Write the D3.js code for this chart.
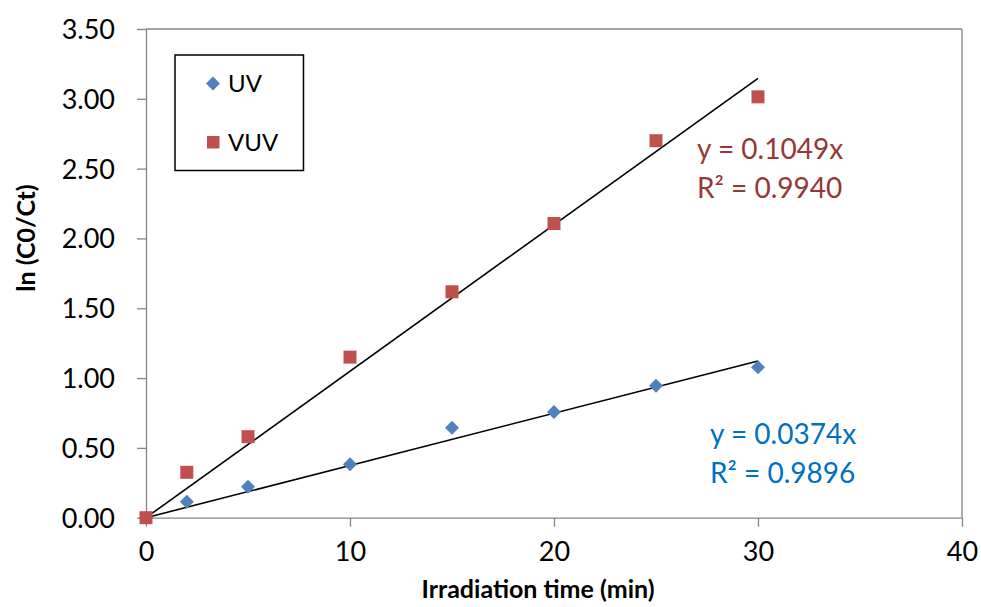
<!DOCTYPE html>
<html><head><meta charset="utf-8">
<script src="https://cdn.jsdelivr.net/npm/d3@7"></script>
<style>
body{margin:0;background:#fff;}
svg{display:block;font-family:Lato, "Open Sans", sans-serif;}
</style></head>
<body><svg id="chart" width="981" height="607"></svg>
<script>
const times = [0, 2, 5, 10, 15, 20, 25, 30];
const uvValues = [0, 0.115, 0.222, 0.382, 0.644, 0.757, 0.945, 1.077];
const vuvValues = [0, 0.325, 0.58, 1.15, 1.618, 2.107, 2.70, 3.014];
const uvSlope = 0.0374, vuvSlope = 0.1049;
const xTicks = [0, 10, 20, 30, 40];
const yTicks = [0, 0.5, 1, 1.5, 2, 2.5, 3, 3.5];
const seriesNames = ["UV", "VUV"];
const uvEq = ["y = 0.0374x", "R² = 0.9896"];
const vuvEq = ["y = 0.1049x", "R² = 0.9940"];

const svg = d3.select("#chart");
const L = 146, R = 962, T = 29, B = 517.7;
const x = d3.scaleLinear().domain([0, 40]).range([L, R]);
const y = d3.scaleLinear().domain([0, 3.5]).range([B, T]);
const grey = "#868686";

svg.append("line").attr("x1", L).attr("x2", R).attr("y1", T).attr("y2", T).attr("stroke", grey).attr("stroke-width", 1.3);
svg.append("line").attr("x1", R).attr("x2", R).attr("y1", T).attr("y2", B).attr("stroke", grey).attr("stroke-width", 1.3);

const xAxis = svg.append("g").attr("transform", `translate(0,${B})`)
  .call(d3.axisBottom(x).tickValues(xTicks).tickSize(9).tickSizeOuter(0).tickPadding(15));
const yAxis = svg.append("g").attr("transform", `translate(${L},0)`)
  .call(d3.axisLeft(y).tickValues(yTicks).tickSize(9).tickSizeOuter(0).tickPadding(22).tickFormat(d3.format(".2f")));
[xAxis, yAxis].forEach(a => {
  a.select(".domain").attr("stroke", grey).attr("stroke-width", 1.3);
  a.selectAll(".tick line").attr("stroke", grey).attr("stroke-width", 1.3);
  a.selectAll(".tick text").attr("fill", "#000").style("font-size", "27px").style("font-family", "Lato, 'Open Sans', sans-serif");
});
xAxis.selectAll(".tick text").attr("dy", "0.71em");
yAxis.selectAll(".tick text").attr("dy", "0.35em");

const trend = (slope) => [[0, 0], [30, slope * 30]];
const line = d3.line().x(d => x(d[0])).y(d => y(d[1]));
svg.append("path").attr("d", line(trend(vuvSlope))).attr("stroke", "#000").attr("stroke-width", 1.6).attr("fill", "none");
svg.append("path").attr("d", line(trend(uvSlope))).attr("stroke", "#000").attr("stroke-width", 1.6).attr("fill", "none");

const uvColor = "#4F81BD", vuvColor = "#C0504D";
const diamond = d3.symbol().type(d3.symbolSquare).size(98);
svg.append("g").selectAll("path").data(times).join("path")
  .attr("d", diamond)
  .attr("transform", (d, i) => `translate(${x(d)},${y(uvValues[i])}) rotate(45)`)
  .attr("fill", uvColor);
svg.append("g").selectAll("rect").data(times).join("rect")
  .attr("x", d => x(d) - 6.5).attr("y", (d, i) => y(vuvValues[i]) - 6.5)
  .attr("width", 13).attr("height", 13).attr("fill", vuvColor);

const eqStyle = (g, lines, color, xx, yy) => {
  lines.forEach((t, i) => g.append("text").attr("x", xx).attr("y", yy + i * 38.5)
    .text(t).attr("fill", color).style("font-size", "28px"));
};
eqStyle(svg, vuvEq, "#953735", 697, 159);
eqStyle(svg, uvEq, "#0070C0", 710, 444);

svg.append("rect").attr("x", 175).attr("y", 55).attr("width", 128.5).attr("height", 115.5)
  .attr("fill", "#fff").attr("stroke", "#000").attr("stroke-width", 1.5);
svg.append("path").attr("d", diamond).attr("transform", "translate(213,83.5) rotate(45)").attr("fill", uvColor);
svg.append("rect").attr("x", 207).attr("y", 136).attr("width", 12.5).attr("height", 12.5).attr("fill", vuvColor);
svg.append("text").attr("x", 228).attr("y", 92).text(seriesNames[0]).style("font-size", "24px");
svg.append("text").attr("x", 228).attr("y", 151).text(seriesNames[1]).style("font-size", "24px");

svg.append("text").attr("x", 538).attr("y", 598).attr("text-anchor", "middle")
  .style("font-size", "25px").style("font-weight", "bold").text("Irradiation time (min)");
svg.append("text").attr("transform", "translate(35,238) rotate(-90)").attr("text-anchor", "middle")
  .style("font-size", "25px").style("font-weight", "bold").text("ln (C0/Ct)");
</script></body></html>
